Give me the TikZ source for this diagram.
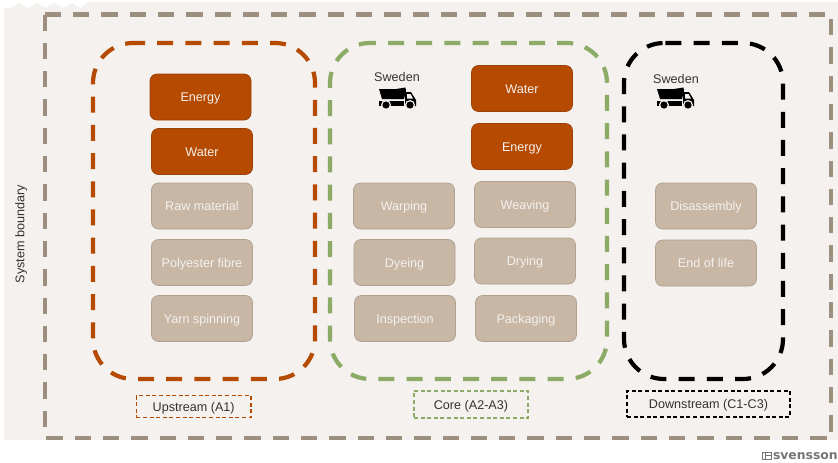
\documentclass[tikz,border=0pt]{standalone}
\usepackage{fontspec}
\setmainfont{Liberation Sans}
\newfontfamily\logofont{DejaVu Sans}
\definecolor{bg}{HTML}{F4F1EE}
\definecolor{rust}{HTML}{B54A00}
\definecolor{rustd}{HTML}{9A4008}
\definecolor{tan}{HTML}{C8B7A5}
\definecolor{tand}{HTML}{AFA08F}
\definecolor{sysb}{HTML}{9C8F80}
\definecolor{grn}{HTML}{8CAB66}
\definecolor{logoc}{HTML}{757575}
\tikzset{
 base/.style={rounded corners=7pt,minimum width=101pt,minimum height=46pt,inner sep=0pt,font=\fontsize{12.6pt}{14pt}\selectfont,line width=.7pt,text height=12pt,text depth=3pt},
 hot/.style={base,fill=rust,draw=rustd,text=bg},
 proc/.style={base,fill=tan,draw=tand,text=bg},
 zone/.style={line width=4.2pt,dash pattern=on 16pt off 12.2pt},
 sysline/.style={sysb,line width=4.2pt,dash pattern=on 16.3pt off 12pt},
 tag/.style={line width=1.3pt,dash pattern=on 4pt off 2.6pt,inner sep=0pt,font=\fontsize{12.6pt}{14pt}\selectfont,text=black!80,text height=12pt,text depth=3pt},
 lbl/.style={inner sep=0pt,font=\fontsize{12.6pt}{14pt}\selectfont,text=black!80},
 pics/truck/.style={code={
  \fill[black] (-19,-9) -- (-2,-9) -- (7.5,-10.5) -- (8,-7) -- (6,1) -- (-16,1) -- cycle;
  \fill[black] (-19,3) -- (6,3) -- (6,7.5) -- (-19,7.5) -- cycle;
  \fill[black] (7,-6) -- (13,-6) -- (18,2) -- (18,8) -- (7,8) -- cycle;
  \fill[bg] (9,-4) -- (12.5,-4) -- (15,0.5) -- (9,0.5) -- cycle;
  \fill[bg] (-12,7) circle (5);\fill[bg] (12,7) circle (5);
  \fill[black] (-12,7) circle (3.6);\fill[black] (12,7) circle (3.6);
 }}
}
\begin{document}
\begin{tikzpicture}[x=1pt,y=-1pt]
\useasboundingbox (0,0) rectangle (838,463);
\fill[white] (0,0) rectangle (838,463);
\fill[bg] (4,8) -- (11,8) -- (19,3) -- (28,8) -- (37,3) -- (46,8) -- (54,3) -- (63,8) -- (72,3) -- (80,8) -- (88,2) -- (838,2) -- (838,440) -- (4,440) -- cycle;
\begin{scope}
\clip (0,0) rectangle (838,440);
\draw[sysline] (44.7,14.5) -- (833,14.5);
\draw[sysline] (44.7,14.5) -- (44.7,430);
\draw[sysline] (831.3,19) -- (831.3,434);
\draw[sysline] (46.3,437.7) -- (830,437.7);
\end{scope}
\draw[rust,zone,dash phase=4pt] (133,43) -- (275,43) .. controls (297.1,43) and (315,60.9) .. (315,83) -- (315,339) .. controls (315,361.1) and (297.1,379) .. (275,379) -- (133,379) .. controls (110.9,379) and (93,361.1) .. (93,339) -- (93,83) .. controls (93,60.9) and (110.9,43) .. (133,43) -- cycle;
\draw[grn,zone,dash phase=10.2pt] (370,43) -- (567,43) .. controls (589.1,43) and (607,60.9) .. (607,83) -- (607,339) .. controls (607,361.1) and (589.1,379) .. (567,379) -- (370,379) .. controls (347.9,379) and (330,361.1) .. (330,339) -- (330,83) .. controls (330,60.9) and (347.9,43) .. (370,43) -- cycle;
\draw[black,zone,dash phase=26.8pt] (664,43) -- (743,43) .. controls (765.1,43) and (783,60.9) .. (783,83) -- (783,339) .. controls (783,361.1) and (765.1,379) .. (743,379) -- (664,379) .. controls (641.9,379) and (624,361.1) .. (624,339) -- (624,83) .. controls (624,60.9) and (641.9,43) .. (664,43) -- cycle;
\node[hot] (a1) at (200.5,97) {Energy};
\node[hot] (a2) at (202,151.5) {Water};
\node[proc] (a3) at (202,206) {Raw material};
\node[proc] (a4) at (202,262.5) {Polyester fibre};
\node[proc] (a5) at (202,318.5) {Yarn spinning};
\node[hot] (b1) at (522,88.5) {Water};
\node[hot] (b2) at (522,146.5) {Energy};
\node[proc] (b3) at (525,204.5) {Weaving};
\node[proc] (b4) at (525,261) {Drying};
\node[proc] (b5) at (526,318.5) {Packaging};
\node[proc] (c1) at (404,206) {Warping};
\node[proc] (c2) at (404.5,262.5) {Dyeing};
\node[proc] (c3) at (405,318.5) {Inspection};
\node[proc] (d1) at (706,206) {Disassembly};
\node[proc] (d2) at (706,263) {End of life};
\node[lbl] (s1) at (397,77) {Sweden};
\node[lbl] (s2) at (676,79) {Sweden};
\pic (t1) at (398,98) {truck};
\pic (t2) at (676,98) {truck};
\node[tag,draw=rust,minimum width=114.5pt,minimum height=22pt] (u) at (193.7,406.7) {Upstream (A1)};
\node[tag,draw=grn,minimum width=114pt,minimum height=27pt] (v) at (471,404.5) {Core (A2-A3)};
\node[tag,draw=black,minimum width=163pt,minimum height=26pt] (w) at (708.5,404) {Downstream (C1-C3)};
\node[lbl,rotate=90] (sb) at (21,234) {System boundary};
\node[inner sep=0pt,text=logoc,anchor=base east,font=\logofont\bfseries\fontsize{12.4pt}{14pt}\selectfont] (logo) at (838,459) {svensson};
\draw[logoc,line width=.8pt] (762.5,452.5) rectangle (771.5,459);
\draw[logoc,line width=.6pt] (765.5,452.5) -- (765.5,459) (765.5,455.7) -- (771.5,455.7);
\end{tikzpicture}
\end{document}
